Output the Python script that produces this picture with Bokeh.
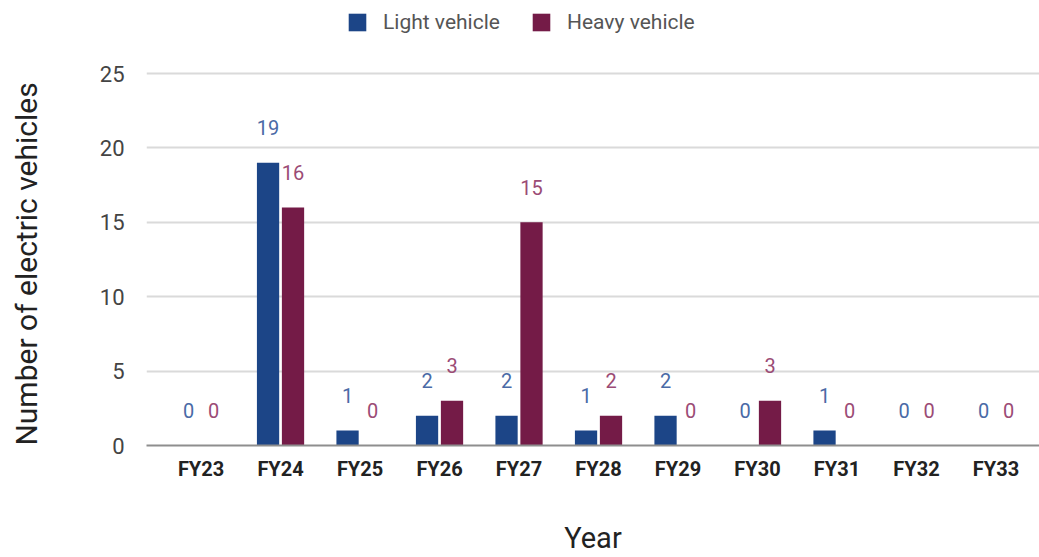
from bokeh.plotting import figure
from bokeh.models import ColumnDataSource, Range1d, FixedTicker, LabelSet, Legend, LegendItem
from bokeh.transform import dodge
from bokeh.core.properties import value
from bokeh.embed import file_html
from bokeh.resources import INLINE

categories = ["FY23", "FY24", "FY25", "FY26", "FY27", "FY28", "FY29", "FY30", "FY31", "FY32", "FY33"]
light_vehicle = [0, 19, 1, 2, 2, 1, 2, 0, 1, 0, 0]
heavy_vehicle = [0, 16, 0, 3, 15, 2, 0, 3, 0, 0, 0]
y_ticks = [0, 5, 10, 15, 20, 25]

LIGHT = "#1c4587"
HEAVY = "#741b47"
FONT = "Roboto"

idx = list(range(len(categories)))
src = ColumnDataSource(dict(
    x=idx,
    light=light_vehicle,
    heavy=heavy_vehicle,
    light_txt=[str(v) for v in light_vehicle],
    heavy_txt=[str(v) for v in heavy_vehicle],
))

# frame spans the full height above the axis; y=25 lands 73px below the top
p = figure(width=1039, height=557, output_backend="svg", toolbar_location=None,
           x_range=Range1d(-0.686, 10.547), y_range=Range1d(0, 29.906),
           min_border_left=146, min_border_right=0, min_border_top=0, min_border_bottom=112)
p.outline_line_color = None
p.background_fill_color = "white"

off = 0.157
bw = 0.28
r1 = p.vbar(x=dodge("x", -off, range=p.x_range), top="light", width=bw, source=src,
            fill_color=LIGHT, line_color=None)
r2 = p.vbar(x=dodge("x", off, range=p.x_range), top="heavy", width=bw, source=src,
            fill_color=HEAVY, line_color=None)

lab1 = LabelSet(x=dodge("x", -off, range=p.x_range), y="light", text="light_txt", source=src,
                y_offset=35, text_align="center", text_baseline="middle",
                text_font=value(FONT), text_font_size=value("20px"), text_color=value("#4a6aa6"))
lab2 = LabelSet(x=dodge("x", off, range=p.x_range), y="heavy", text="heavy_txt", source=src,
                y_offset=35, text_align="center", text_baseline="middle",
                text_font=value(FONT), text_font_size=value("20px"), text_color=value("#9b4b75"))
p.add_layout(lab1)
p.add_layout(lab2)

# axes
p.xaxis.ticker = FixedTicker(ticks=idx)
p.xaxis.major_label_overrides = {i: c for i, c in enumerate(categories)}
p.xaxis.axis_line_color = "#8e8e8e"
p.xaxis.axis_line_width = 2
p.xaxis.major_tick_line_color = None
p.xaxis.minor_tick_line_color = None
p.xaxis.major_label_standoff = 5
p.xaxis.major_label_text_font = FONT
p.xaxis.major_label_text_font_style = "bold"
p.xaxis.major_label_text_font_size = "20px"
p.xaxis.major_label_text_color = "#222222"
p.xaxis.axis_label = "Year"
p.xaxis.axis_label_standoff = 37
p.xaxis.axis_label_text_font = FONT
p.xaxis.axis_label_text_font_style = "normal"
p.xaxis.axis_label_text_font_size = "29px"
p.xaxis.axis_label_text_color = "#222222"

p.yaxis.ticker = FixedTicker(ticks=y_ticks)
p.yaxis.axis_line_color = None
p.yaxis.major_tick_line_color = None
p.yaxis.minor_tick_line_color = None
p.yaxis.major_label_standoff = 16
p.yaxis.major_label_text_font = FONT
p.yaxis.major_label_text_font_size = "22px"
p.yaxis.major_label_text_color = "#444444"
# trailing no-break spaces shift the centred title down to sit beside the 0-25 span
p.yaxis.axis_label = "Number of electric vehicles" + "\u00a0" * 11
p.yaxis.axis_label_standoff = 53
p.yaxis.axis_label_text_font = FONT
p.yaxis.axis_label_text_font_style = "normal"
p.yaxis.axis_label_text_font_size = "30px"
p.yaxis.axis_label_text_color = "#222222"

p.xgrid.visible = False
p.ygrid.ticker = FixedTicker(ticks=y_ticks)
p.ygrid.grid_line_color = "#dadada"
p.ygrid.grid_line_width = 2

legend = Legend(items=[LegendItem(label="Light vehicle", renderers=[r1]),
                       LegendItem(label="Heavy vehicle", renderers=[r2])],
                orientation="horizontal", location=(200, 411))
legend.glyph_width = 22
legend.glyph_height = 22
legend.label_standoff = 15
legend.spacing = 30
legend.padding = 0
legend.margin = 0
legend.border_line_color = None
legend.background_fill_alpha = 0
legend.label_text_font = FONT
legend.label_text_font_size = "21px"
legend.label_text_color = "#555555"
p.add_layout(legend)

open("out.html", "w").write(file_html(p, INLINE))
